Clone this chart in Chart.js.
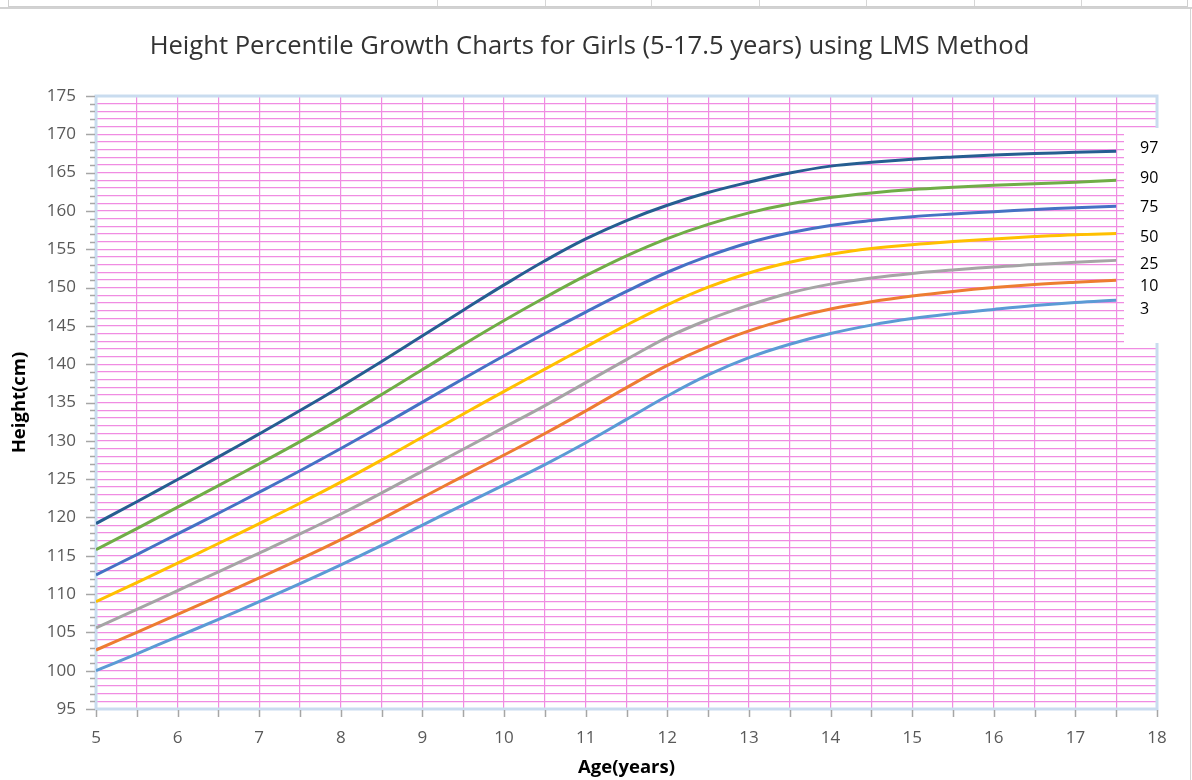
<!DOCTYPE html>
<html>
<head>
<meta charset="utf-8">
<script src="https://cdn.jsdelivr.net/npm/chart.js@4"></script>
<style>
  html, body { margin:0; padding:0; background:#fff; width:1192px; height:780px; overflow:hidden; }
  #strip { position:absolute; left:8px; top:-2px; width:1180px; height:9px; border:1px solid #cfcfcf; border-top:none; background:#fff; box-sizing:border-box; }
  #strip div { position:absolute; top:0; height:8px; border-left:1px solid #d6d6d6; }
  #sep { position:absolute; left:0; top:7px; width:1192px; height:2px; background:#d2d2d2; }
  #wrap { position:absolute; left:0; top:9px; width:1190px; height:771px; border-right:1px solid #d4d4d4; }
  canvas { display:block; }
</style>
</head>
<body>
<div id="strip">
  <div style="left:428px"></div><div style="left:536px"></div><div style="left:642px"></div>
  <div style="left:750px"></div><div style="left:857px"></div><div style="left:965px"></div><div style="left:1072px"></div>
</div>
<div id="sep"></div>
<div id="wrap"><canvas id="c" width="1190" height="771"></canvas></div>
<script>
// ---- data ----
const ages = [5,5.5,6,6.5,7,7.5,8,8.5,9,9.5,10,10.5,11,11.5,12,12.5,13,13.5,14,14.5,15,15.5,16,16.5,17,17.5];
const p97 = [119.2,122.05,124.95,127.9,130.9,133.95,137.1,140.35,143.7,147.05,150.35,153.5,156.35,158.75,160.75,162.4,163.75,164.95,165.85,166.35,166.75,167.05,167.3,167.5,167.65,167.8];
const p90 = [115.8,118.55,121.35,124.15,127.0,129.9,132.9,136.05,139.3,142.55,145.7,148.7,151.55,154.15,156.4,158.25,159.75,160.9,161.75,162.35,162.8,163.1,163.35,163.55,163.75,164.0];
const p75 = [112.5,115.15,117.85,120.55,123.3,126.1,129.0,132.0,135.05,138.1,141.1,144.0,146.8,149.5,152.0,154.1,155.85,157.15,158.1,158.75,159.25,159.6,159.9,160.2,160.42,160.6];
const p50 = [109.0,111.5,114.05,116.6,119.2,121.85,124.6,127.5,130.5,133.5,136.45,139.35,142.25,145.1,147.75,150.05,151.9,153.3,154.35,155.1,155.6,156.0,156.35,156.65,156.9,157.05];
const p25 = [105.6,108.0,110.45,112.9,115.35,117.85,120.45,123.2,126.05,128.9,131.75,134.6,137.6,140.6,143.5,145.8,147.7,149.3,150.45,151.25,151.85,152.3,152.7,153.0,153.3,153.55];
const p10 = [102.7,105.0,107.35,109.7,112.1,114.55,117.1,119.8,122.6,125.4,128.15,130.95,133.9,136.95,139.85,142.3,144.35,145.95,147.2,148.15,148.9,149.5,150.0,150.4,150.7,150.95];
const p3  = [100.0,102.2,104.45,106.7,109.0,111.35,113.8,116.35,119.0,121.65,124.25,126.9,129.75,132.8,135.85,138.6,140.85,142.6,144.0,145.1,145.95,146.6,147.15,147.65,148.05,148.35];
const percentileLabels = ['97','90','75','50','25','10','3'];
const seriesValues = [p97,p90,p75,p50,p25,p10,p3];
const seriesColors = ['#255E91','#70AD47','#4472C4','#FFC000','#A5A5A5','#ED7D31','#5B9BD5'];
const xMin = 5, xMax = 18, xStep = 0.5;
const yMin = 95, yMax = 175, yStep = 1, yLabelStep = 5;
const chartTitle = 'Height Percentile Growth Charts for Girls (5-17.5 years) using LMS Method';
const xTitle = 'Age(years)';
const yTitle = 'Height(cm)';

const PINK = '#F08CE2';
const FRAME = '#C9DCEF';
const TICKC = '#A6A6A6';
const FONT = "'Open Sans', 'Liberation Sans', sans-serif";

const datasets = seriesValues.map((vals, i) => ({
  label: percentileLabels[i],
  data: ages.map((a, j) => ({ x: a, y: vals[j] })),
  yAxisID: 'y',
  borderColor: seriesColors[i],
  backgroundColor: seriesColors[i],
  borderWidth: 3,
  pointRadius: 0,
  fill: false,
  tension: 0.4
}));

const decor = {
  id: 'decor',
  beforeDatasetsDraw(chart) {
    const { ctx, chartArea: a } = chart;
    const xs = chart.scales.x, ys = chart.scales.y;
    ctx.save();
    ctx.strokeStyle = FRAME;
    ctx.lineWidth = 3;
    ctx.strokeRect(a.left, a.top, a.right - a.left, a.bottom - a.top);
    ctx.strokeStyle = TICKC;
    ctx.lineWidth = 1.5;
    ctx.beginPath();
    for (let v = yMin; v <= yMax; v += yStep) {
      const y = Math.round(ys.getPixelForValue(v)) + 0.5;
      const len = (v % yLabelStep === 0) ? 9 : 5;
      ctx.moveTo(a.left - 1 - len, y); ctx.lineTo(a.left - 1, y);
    }
    for (let v = xMin; v <= xMax + 1e-9; v += xStep) {
      const x = Math.round(xs.getPixelForValue(v)) + 0.5;
      ctx.moveTo(x, a.bottom + 1); ctx.lineTo(x, a.bottom + 8);
    }
    ctx.stroke();
    ctx.restore();
  },
  afterDraw(chart) {
    const { ctx } = chart;
    ctx.save();
    ctx.fillStyle = '#ffffff';
    ctx.fillRect(1124, 119, 66, 215);
    ctx.fillStyle = '#000000';
    ctx.font = "16px " + FONT;
    ctx.textAlign = 'left';
    ctx.textBaseline = 'middle';
    const ly = [139, 169, 198, 228, 255, 277, 300];
    percentileLabels.forEach((t, i) => ctx.fillText(t, 1140, ly[i]));
    ctx.restore();
  }
};

new Chart(document.getElementById('c'), {
  type: 'line',
  data: { datasets },
  plugins: [decor],
  options: {
    responsive: false,
    animation: false,
    layout: { padding: { left: 0, right: 11, top: 0, bottom: 0 } },
    plugins: {
      legend: { display: false },
      tooltip: { enabled: false },
      title: {
        display: true, text: chartTitle, color: '#333333',
        font: { family: FONT, size: 25.6, weight: 'normal', lineHeight: 1.2 },
        padding: { top: 22.5, bottom: 33.8 }
      }
    },
    scales: {
      x: {
        type: 'linear', min: xMin, max: xMax,
        afterFit(s) { s.height = 71; },
        border: { display: false },
        grid: { color: PINK, lineWidth: 1.2, drawTicks: false },
        ticks: {
          stepSize: xStep, autoSkip: false, maxRotation: 0, padding: 19,
          color: '#595959', font: { family: FONT, size: 17 },
          callback: v => Number.isInteger(v) ? String(v) : ''
        },
        title: { display: true, text: xTitle, color: '#000', font: { family: FONT, size: 18.5, weight: 'bold' }, padding: { top: 0, bottom: 1.5 } }
      },
      y: {
        type: 'linear', min: yMin, max: yMax,
        afterFit(s) { s.width = 96; },
        border: { display: false },
        grid: { color: PINK, lineWidth: 1.2, drawTicks: false },
        ticks: {
          stepSize: yStep, autoSkip: false, padding: 20,
          color: '#595959', font: { family: FONT, size: 17 },
          callback: v => (v % yLabelStep === 0) ? String(v) : ''
        },
        title: { display: true, text: yTitle, color: '#000', font: { family: FONT, size: 18.5, weight: 'bold' }, padding: { top: 9, bottom: 0 } }
      },
      yRight: {
        type: 'linear', position: 'right', min: yMin, max: yMax,
        afterFit(s) { s.width = 22; },
        border: { display: false },
        grid: { display: false, drawTicks: false },
        ticks: { display: false }
      }
    }
  }
});
</script>
</body>
</html>
